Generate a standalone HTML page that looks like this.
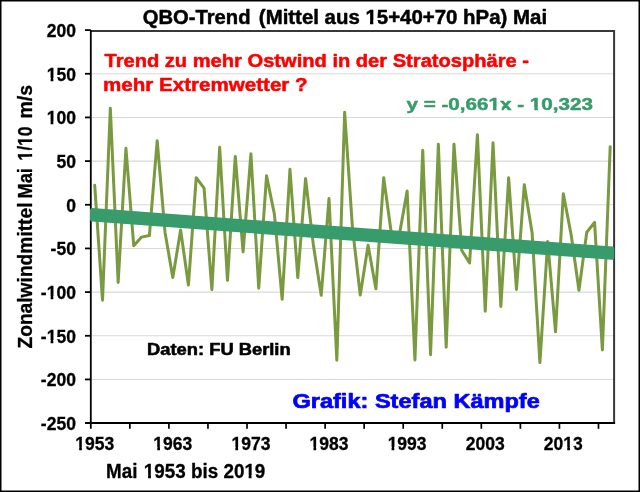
<!DOCTYPE html><html><head><meta charset="utf-8"><style>html,body{margin:0;padding:0;background:#fff;}svg{display:block;will-change:transform;}</style></head><body>
<svg width="640" height="492" viewBox="0 0 640 492">
<rect x="0" y="0" width="640" height="492" fill="#fff"/>
<line x1="90.80" y1="73.77" x2="614.10" y2="73.77" stroke="#d9d9d9" stroke-width="1.1"/>
<line x1="90.80" y1="117.43" x2="614.10" y2="117.43" stroke="#d9d9d9" stroke-width="1.1"/>
<line x1="90.80" y1="161.10" x2="614.10" y2="161.10" stroke="#d9d9d9" stroke-width="1.1"/>
<line x1="90.80" y1="204.77" x2="614.10" y2="204.77" stroke="#d9d9d9" stroke-width="1.1"/>
<line x1="90.80" y1="248.43" x2="614.10" y2="248.43" stroke="#d9d9d9" stroke-width="1.1"/>
<line x1="90.80" y1="292.10" x2="614.10" y2="292.10" stroke="#d9d9d9" stroke-width="1.1"/>
<line x1="90.80" y1="335.77" x2="614.10" y2="335.77" stroke="#d9d9d9" stroke-width="1.1"/>
<line x1="90.80" y1="379.43" x2="614.10" y2="379.43" stroke="#d9d9d9" stroke-width="1.1"/>
<polyline points="94.71,185.33 102.52,300.22 110.33,108.27 118.14,282.52 125.95,148.28 133.76,245.82 141.57,237.10 149.38,235.54 157.19,140.69 165.00,232.22 172.81,277.55 180.62,230.04 188.43,284.96 196.24,177.65 204.05,188.20 211.86,289.58 219.67,147.32 227.48,280.34 235.29,156.38 243.10,251.92 250.91,153.77 258.72,288.19 266.54,175.74 274.35,213.92 282.16,299.34 289.97,169.29 297.78,277.55 305.59,178.61 313.40,245.30 321.21,295.33 329.02,198.58 336.83,360.28 344.64,112.28 352.45,227.86 360.26,294.99 368.07,245.30 375.88,288.80 383.69,177.74 391.50,234.49 399.31,235.10 407.12,190.99 414.93,359.93 422.74,150.28 430.55,354.78 438.36,144.18 446.18,347.29 453.99,144.18 461.80,250.53 469.61,262.99 477.42,134.68 485.23,311.20 493.04,142.79 500.85,306.49 508.66,177.83 516.47,289.41 524.28,184.80 532.09,232.66 539.90,362.54 547.71,241.46 555.52,331.86 563.33,193.69 571.14,234.66 578.95,290.28 586.76,232.22 594.57,222.46 602.38,349.90 610.19,146.80" fill="none" stroke="#7a9a3f" stroke-width="3" stroke-linejoin="round" stroke-linecap="round"/>
<path d="M90.80,31.00 H614.10 V423.1" fill="none" stroke="#383838" stroke-width="2"/>
<line x1="90.80" y1="30.1" x2="90.80" y2="428.8" stroke="#000" stroke-width="1.8"/>
<line x1="85" y1="422.90000000000003" x2="615.10" y2="422.90000000000003" stroke="#000" stroke-width="2"/>
<line x1="85" y1="30.10" x2="90.80" y2="30.10" stroke="#000" stroke-width="1.8"/>
<line x1="85" y1="73.77" x2="90.80" y2="73.77" stroke="#000" stroke-width="1.8"/>
<line x1="85" y1="117.43" x2="90.80" y2="117.43" stroke="#000" stroke-width="1.8"/>
<line x1="85" y1="161.10" x2="90.80" y2="161.10" stroke="#000" stroke-width="1.8"/>
<line x1="85" y1="204.77" x2="90.80" y2="204.77" stroke="#000" stroke-width="1.8"/>
<line x1="85" y1="248.43" x2="90.80" y2="248.43" stroke="#000" stroke-width="1.8"/>
<line x1="85" y1="292.10" x2="90.80" y2="292.10" stroke="#000" stroke-width="1.8"/>
<line x1="85" y1="335.77" x2="90.80" y2="335.77" stroke="#000" stroke-width="1.8"/>
<line x1="85" y1="379.43" x2="90.80" y2="379.43" stroke="#000" stroke-width="1.8"/>
<line x1="129.85" y1="423.1" x2="129.85" y2="428.8" stroke="#000" stroke-width="1.7"/>
<line x1="168.90" y1="423.1" x2="168.90" y2="428.8" stroke="#000" stroke-width="1.7"/>
<line x1="207.96" y1="423.1" x2="207.96" y2="428.8" stroke="#000" stroke-width="1.7"/>
<line x1="247.01" y1="423.1" x2="247.01" y2="428.8" stroke="#000" stroke-width="1.7"/>
<line x1="286.06" y1="423.1" x2="286.06" y2="428.8" stroke="#000" stroke-width="1.7"/>
<line x1="325.11" y1="423.1" x2="325.11" y2="428.8" stroke="#000" stroke-width="1.7"/>
<line x1="364.17" y1="423.1" x2="364.17" y2="428.8" stroke="#000" stroke-width="1.7"/>
<line x1="403.22" y1="423.1" x2="403.22" y2="428.8" stroke="#000" stroke-width="1.7"/>
<line x1="442.27" y1="423.1" x2="442.27" y2="428.8" stroke="#000" stroke-width="1.7"/>
<line x1="481.32" y1="423.1" x2="481.32" y2="428.8" stroke="#000" stroke-width="1.7"/>
<line x1="520.37" y1="423.1" x2="520.37" y2="428.8" stroke="#000" stroke-width="1.7"/>
<line x1="559.43" y1="423.1" x2="559.43" y2="428.8" stroke="#000" stroke-width="1.7"/>
<line x1="598.48" y1="423.1" x2="598.48" y2="428.8" stroke="#000" stroke-width="1.7"/>
<path d="M92.00,210.11 L612.30,248.56 L612.30,257.86 L92.00,219.41 Z" fill="#389b6b" stroke="#389b6b" stroke-width="4.0" stroke-linejoin="round"/>
<text x="75.90" y="36.90" text-anchor="end" font-size="17.5" font-family="Liberation Sans, Arial, sans-serif" font-weight="bold" fill="#000" stroke="#000" stroke-width="0.3">200</text>
<text x="75.90" y="80.57" text-anchor="end" font-size="17.5" font-family="Liberation Sans, Arial, sans-serif" font-weight="bold" fill="#000" stroke="#000" stroke-width="0.3">150</text>
<text x="75.90" y="124.23" text-anchor="end" font-size="17.5" font-family="Liberation Sans, Arial, sans-serif" font-weight="bold" fill="#000" stroke="#000" stroke-width="0.3">100</text>
<text x="75.90" y="167.90" text-anchor="end" font-size="17.5" font-family="Liberation Sans, Arial, sans-serif" font-weight="bold" fill="#000" stroke="#000" stroke-width="0.3">50</text>
<text x="75.90" y="211.57" text-anchor="end" font-size="17.5" font-family="Liberation Sans, Arial, sans-serif" font-weight="bold" fill="#000" stroke="#000" stroke-width="0.3">0</text>
<text x="75.90" y="255.23" text-anchor="end" font-size="17.5" font-family="Liberation Sans, Arial, sans-serif" font-weight="bold" fill="#000" stroke="#000" stroke-width="0.3">-50</text>
<text x="75.90" y="298.90" text-anchor="end" font-size="17.5" font-family="Liberation Sans, Arial, sans-serif" font-weight="bold" fill="#000" stroke="#000" stroke-width="0.3">-100</text>
<text x="75.90" y="342.57" text-anchor="end" font-size="17.5" font-family="Liberation Sans, Arial, sans-serif" font-weight="bold" fill="#000" stroke="#000" stroke-width="0.3">-150</text>
<text x="75.90" y="386.23" text-anchor="end" font-size="17.5" font-family="Liberation Sans, Arial, sans-serif" font-weight="bold" fill="#000" stroke="#000" stroke-width="0.3">-200</text>
<text x="75.90" y="429.90" text-anchor="end" font-size="17.5" font-family="Liberation Sans, Arial, sans-serif" font-weight="bold" fill="#000" stroke="#000" stroke-width="0.3">-250</text>
<text x="94.71" y="449.5" text-anchor="middle" font-size="17.5" font-family="Liberation Sans, Arial, sans-serif" font-weight="bold" fill="#000" stroke="#000" stroke-width="0.3">1953</text>
<text x="172.81" y="449.5" text-anchor="middle" font-size="17.5" font-family="Liberation Sans, Arial, sans-serif" font-weight="bold" fill="#000" stroke="#000" stroke-width="0.3">1963</text>
<text x="250.91" y="449.5" text-anchor="middle" font-size="17.5" font-family="Liberation Sans, Arial, sans-serif" font-weight="bold" fill="#000" stroke="#000" stroke-width="0.3">1973</text>
<text x="329.02" y="449.5" text-anchor="middle" font-size="17.5" font-family="Liberation Sans, Arial, sans-serif" font-weight="bold" fill="#000" stroke="#000" stroke-width="0.3">1983</text>
<text x="407.12" y="449.5" text-anchor="middle" font-size="17.5" font-family="Liberation Sans, Arial, sans-serif" font-weight="bold" fill="#000" stroke="#000" stroke-width="0.3">1993</text>
<text x="485.23" y="449.5" text-anchor="middle" font-size="17.5" font-family="Liberation Sans, Arial, sans-serif" font-weight="bold" fill="#000" stroke="#000" stroke-width="0.3">2003</text>
<text x="563.33" y="449.5" text-anchor="middle" font-size="17.5" font-family="Liberation Sans, Arial, sans-serif" font-weight="bold" fill="#000" stroke="#000" stroke-width="0.3">2013</text>
<text transform="translate(142.82,23.60) scale(0.9621,1)" font-size="21" font-family="Liberation Sans, Arial, sans-serif" font-weight="bold" fill="#000" stroke="#000" stroke-width="0.5" stroke-linejoin="round" xml:space="preserve">QBO-Trend</text>
<text transform="translate(258.85,23.60) scale(0.9727,1)" font-size="21" font-family="Liberation Sans, Arial, sans-serif" font-weight="bold" fill="#000" stroke="#000" stroke-width="0.5" stroke-linejoin="round" xml:space="preserve">(Mittel aus 15+40+70 hPa) Mai</text>
<text transform="translate(104.48,66.90) scale(1.0878,1)" font-size="18.5" font-family="Liberation Sans, Arial, sans-serif" font-weight="bold" fill="#ff0000" stroke="#ff0000" stroke-width="0.5" stroke-linejoin="round" xml:space="preserve">Trend zu mehr Ostwind in der Stratosphäre -</text>
<text transform="translate(102.94,91.10) scale(1.1130,1)" font-size="18.5" font-family="Liberation Sans, Arial, sans-serif" font-weight="bold" fill="#ff0000" stroke="#ff0000" stroke-width="0.5" stroke-linejoin="round" xml:space="preserve">mehr Extremwetter ?</text>
<text transform="translate(406.47,110.10) scale(1.2153,1)" font-size="17" font-family="Liberation Sans, Arial, sans-serif" font-weight="bold" fill="#389b6b" stroke="#389b6b" stroke-width="0.5" stroke-linejoin="round" xml:space="preserve">y = -0,661x - 10,323</text>
<text transform="translate(147.09,355.40) scale(1.1751,1)" font-size="15.6" font-family="Liberation Sans, Arial, sans-serif" font-weight="bold" fill="#000" stroke="#000" stroke-width="0.55" stroke-linejoin="round" xml:space="preserve">Daten: FU Berlin</text>
<text transform="translate(292.43,408.00) scale(1.1493,1)" font-size="20.5" font-family="Liberation Sans, Arial, sans-serif" font-weight="bold" fill="#0000ff" stroke="#0000ff" stroke-width="0.7" stroke-linejoin="round" xml:space="preserve">Grafik: Stefan Kämpfe</text>
<text transform="translate(106.12,477.90) scale(0.9598,1)" font-size="19.6" font-family="Liberation Sans, Arial, sans-serif" font-weight="bold" fill="#000" stroke="#000" stroke-width="0.3" stroke-linejoin="round" xml:space="preserve">Mai</text>
<text transform="translate(143.83,477.90) scale(0.9617,1)" font-size="19.6" font-family="Liberation Sans, Arial, sans-serif" font-weight="bold" fill="#000" stroke="#000" stroke-width="0.3" stroke-linejoin="round" xml:space="preserve">1953 bis 2019</text>
<text transform="translate(32.00,348.56) rotate(-90) scale(0.9604,1)" font-size="20" font-family="Liberation Sans, Arial, sans-serif" font-weight="bold" fill="#000" stroke="#000" stroke-width="0.3" stroke-linejoin="round" xml:space="preserve">Zonalwindmittel</text>
<text transform="translate(32.00,198.40) rotate(-90) scale(0.9099,1)" font-size="20" font-family="Liberation Sans, Arial, sans-serif" font-weight="bold" fill="#000" stroke="#000" stroke-width="0.3" stroke-linejoin="round" xml:space="preserve">Mai</text>
<text transform="translate(32.00,160.64) rotate(-90) scale(0.8810,1)" font-size="20" font-family="Liberation Sans, Arial, sans-serif" font-weight="bold" fill="#000" stroke="#000" stroke-width="0.3" stroke-linejoin="round" xml:space="preserve">1/10</text>
<text transform="translate(32.00,118.57) rotate(-90) scale(0.9792,1)" font-size="20" font-family="Liberation Sans, Arial, sans-serif" font-weight="bold" fill="#000" stroke="#000" stroke-width="0.3" stroke-linejoin="round" xml:space="preserve">m/s</text>
<!--FOOT--><polygon points="46.05,82.32 50.63,82.32 50.63,77.93 46.05,77.93" fill="#fff"/><polygon points="53.33,82.32 57.69,82.32 57.69,77.93 53.33,77.93" fill="#fff"/><polygon points="46.05,125.98 50.63,125.98 50.63,121.59 46.05,121.59" fill="#fff"/><polygon points="53.33,125.98 57.69,125.98 57.69,121.59 53.33,121.59" fill="#fff"/><polygon points="46.03,300.65 50.62,300.65 50.62,296.26 46.03,296.26" fill="#fff"/><polygon points="53.32,300.65 57.68,300.65 57.68,296.26 53.32,296.26" fill="#fff"/><polygon points="46.03,344.32 50.62,344.32 50.62,339.93 46.03,339.93" fill="#fff"/><polygon points="53.32,344.32 57.68,344.32 57.68,339.93 53.32,339.93" fill="#fff"/><polygon points="74.59,451.25 79.18,451.25 79.18,446.86 74.59,446.86" fill="#fff"/><polygon points="81.88,451.25 86.24,451.25 86.24,446.86 81.88,446.86" fill="#fff"/><polygon points="152.69,451.25 157.28,451.25 157.28,446.86 152.69,446.86" fill="#fff"/><polygon points="159.98,451.25 164.34,451.25 164.34,446.86 159.98,446.86" fill="#fff"/><polygon points="230.79,451.25 235.38,451.25 235.38,446.86 230.79,446.86" fill="#fff"/><polygon points="238.08,451.25 242.44,451.25 242.44,446.86 238.08,446.86" fill="#fff"/><polygon points="308.90,451.25 313.49,451.25 313.49,446.86 308.90,446.86" fill="#fff"/><polygon points="316.19,451.25 320.55,451.25 320.55,446.86 316.19,446.86" fill="#fff"/><polygon points="387.00,451.25 391.59,451.25 391.59,446.86 387.00,446.86" fill="#fff"/><polygon points="394.29,451.25 398.65,451.25 398.65,446.86 394.29,446.86" fill="#fff"/><polygon points="562.67,451.25 567.25,451.25 567.25,446.86 562.67,446.86" fill="#fff"/><polygon points="569.95,451.25 574.31,451.25 574.31,446.86 569.95,446.86" fill="#fff"/><polygon points="364.96,25.45 369.99,25.45 369.99,20.51 364.96,20.51" fill="#fff"/><polygon points="373.28,25.45 378.06,25.45 378.06,20.51 373.28,20.51" fill="#fff"/><polygon points="487.58,111.95 493.04,111.95 493.04,107.42 487.58,107.42" fill="#fff"/><polygon points="496.49,111.95 501.69,111.95 501.69,107.42 496.49,107.42" fill="#fff"/><polygon points="528.91,111.95 534.37,111.95 534.37,107.42 528.91,107.42" fill="#fff"/><polygon points="537.81,111.95 543.02,111.95 543.02,107.42 537.81,107.42" fill="#fff"/><polygon points="143.33,479.65 148.09,479.65 148.09,475.05 143.33,475.05" fill="#fff"/><polygon points="150.96,479.65 155.47,479.65 155.47,475.05 150.96,475.05" fill="#fff"/><polygon points="243.89,479.65 248.64,479.65 248.64,475.05 243.89,475.05" fill="#fff"/><polygon points="251.52,479.65 256.03,479.65 256.03,475.05 251.52,475.05" fill="#fff"/><polygon points="33.75,161.07 33.75,156.66 29.11,156.66 29.11,161.07" fill="#fff"/><polygon points="33.75,153.98 33.75,149.79 29.11,149.79 29.11,153.98" fill="#fff"/><polygon points="33.75,146.41 33.75,141.99 29.11,141.99 29.11,146.41" fill="#fff"/><polygon points="33.75,139.31 33.75,135.12 29.11,135.12 29.11,139.31" fill="#fff"/><!--/FOOT-->
<rect x="0.75" y="0.75" width="638.5" height="490.5" fill="none" stroke="#000" stroke-width="1.5"/>
</svg></body></html>
